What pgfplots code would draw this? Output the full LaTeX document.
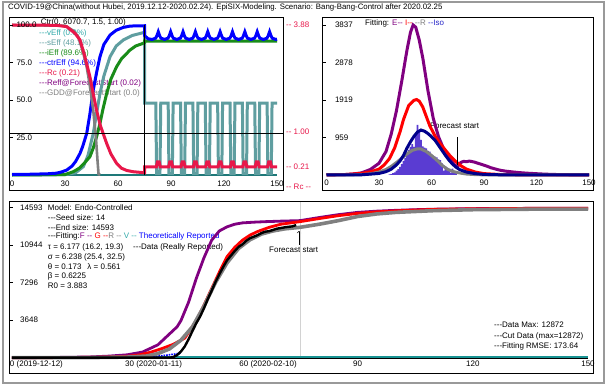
\documentclass[border=0pt]{standalone}
\usepackage{pgfplots}
\pgfplotsset{compat=1.18}
\usepackage{fontspec}
\setmainfont{Liberation Sans}
\definecolor{crim}{RGB}{232,23,74}
\definecolor{pur}{RGB}{128,0,128}
\definecolor{navyb}{RGB}{0,0,139}
\definecolor{teald}{RGB}{30,120,120}
\definecolor{tealt}{RGB}{50,170,170}
\definecolor{cadet}{RGB}{95,158,160}
\definecolor{grn}{RGB}{25,140,25}
\definecolor{barc}{RGB}{90,60,210}
\definecolor{bgray}{RGB}{128,128,128}
\definecolor{isoc}{RGB}{40,40,200}
\newcommand{\f}{\fontsize{8}{10}\selectfont}
\pgfplotsset{
  panel/.style={scale only axis, anchor=south west, axis on top,
    axis line style={black, line width=0.8pt},
    tick align=inside, ytick pos=left, xtick pos=bottom,
    xtick style={draw=none}, ytick style={black, line width=0.6pt},
    major tick length=4pt,
    tick label style={font=\f},
    yticklabel style={anchor=west, xshift=4pt},
    xticklabel style={anchor=center},
    scaled ticks=false, clip=true}
}
\begin{document}
\begin{tikzpicture}
\begin{scope}[x=1pt,y=1pt]
\path[use as bounding box, fill=white] (0,0) rectangle (608,386);
\draw[gray!80, line width=1.3pt] (3,3) rectangle (604,384);
\node[anchor=west, inner sep=0] at (8,379) {\fontsize{7.85}{10}\selectfont COVID-19@China(without Hubei, 2019.12.12-2020.02.24). EpiSIX-Modeling. Scenario: Bang-Bang-Control after 2020.02.25};
\begin{scope}[every node/.style={anchor=west, inner sep=0, font=\f}]
\node at (40.7,363.5) {Ctr(0, 6070.7, 1.5, 1.00)};
\node[tealt] at (39,353) {-{}-{}-vEff (0.0\%)};
\node[cadet] at (39,343) {-{}-{}-sEff (48.1\%)};
\node[grn] at (39,333) {-{}-{}-iEff (89.6\%)};
\node[blue] at (39,323) {-{}-{}-ctrEff (94.6\%)};
\node[crim] at (39,313) {-{}-{}-Rc (0.21)};
\node[pur] at (39,303) {-{}-{}-Reff@ForecastStart (0.02)};
\node[bgray] at (39,292.5) {-{}-{}-GDD@ForecastStart (0.0)};
\node[crim] at (286,361) {-{}- 3.88};
\node[crim] at (286,254) {-{}- 1.00};
\node[crim] at (286,219.3) {-{}- 0.21};
\node[crim] at (286,199) {-{}- Rc -{}-};
\node at (365,363) {Fitting: \textcolor{pur}{E-{}-} \textcolor{red}{I-{}-} \textcolor{bgray}{-{}-R} \textcolor{isoc}{-{}-Iso}};
\node at (430,260) {Forecast start};
\node at (47.7,178.7) {Model: Endo-Controlled};
\node at (47.7,168.3) {-{}-{}-Seed size: 14};
\node at (47.7,158.7) {-{}-{}-End size: 14593};
\node at (47.7,149.3) {-{}-{}-Fitting:\textcolor{pur}{F -{}-} \textcolor{red}{G -{}-}\textcolor{bgray}{R -{}-} \textcolor{tealt}{V -{}-} \textcolor{blue}{Theoretically Reported}};
\node at (47.7,138.7) {τ = 6.177 (16.2, 19.3)};
\node at (133,138.7) {-{}-{}-Data (Really Reported)};
\node at (47.7,129) {σ = 6.238 (25.4, 32.5)};
\node at (47.7,119.7) {θ = 0.173\hspace{6pt}λ = 0.561};
\node at (47.7,110) {β = 0.6225};
\node at (47.7,100.3) {R0 = 3.883};
\node at (269,136) {Forecast start};
\node at (494,61) {-{}-{}-Data Max: 12872};
\node at (494,50) {-{}-{}-Cut Data (max=12872)};
\node at (494,40) {-{}-{}-Fitting RMSE: 173.64};
\end{scope}
\draw[->, line width=0.6pt] (299,141) -- (299,155);
\end{scope}
% ================= top-left
\begin{axis}[panel, at={(9pt,195.5pt)}, width=274.5pt, height=173pt,
  xmin=-1.70, xmax=153.68, ymin=-10.33, ymax=105,
  xtick={0,30,60,90,120,150}, xticklabels={0,30,60,90,120,150},
  xticklabel style={yshift=7.2pt},
  ytick={25,50,75,100}, yticklabels={25.0,50.0,75.0,100.0}]
\addplot[teald, line width=2pt] coordinates {(0,0.3) (150,0.3)};
\addplot[cadet, line width=3pt] coordinates {(0,0) (30,0.2) (36,1.5) (40.4,5.6) (43,13) (46,27.8) (48,42) (49.8,54.4) (52,66) (55.5,78.9) (59,86) (63,90) (68,93) (74.3,94.9) (75,95) (75.01,48)
 (81.4,48) (81.85,1) (83.75,1) (84.2,48)
 (88.4,48) (88.85,1) (90.75,1) (91.2,48)
 (95.4,48) (95.85,1) (97.75,1) (98.2,48)
 (102.4,48) (102.85,1) (104.75,1) (105.2,48)
 (109.4,48) (109.85,1) (111.75,1) (112.2,48)
 (116.4,48) (116.85,1) (118.75,1) (119.2,48)
 (123.4,48) (123.85,1) (125.75,1) (126.2,48)
 (130.4,48) (130.85,1) (132.75,1) (133.2,48)
 (137.4,48) (137.85,1) (139.75,1) (140.2,48)
 (144.4,48) (144.85,1) (146.75,1) (147.2,48) (150,48)};
\addplot[grn, line width=3pt] coordinates {(0,0) (30,0.3) (34.7,2.2) (38,4.5) (41,8) (44.1,12.2) (46,18) (48,26) (49.8,34.4) (51.5,44) (53.6,54.4) (56,64) (59.2,72.2) (62,77.5) (66.8,83.3) (70,86) (74.3,87.8) (75,88.3) (75.01,89.3) (150,89.3)};
\addplot[blue, line width=3pt] coordinates {(0,0.5) (10,0.5) (20,0.8) (25,1.2) (28,2) (31,3.3) (34,6) (36,9) (38.5,14.4) (40,19) (42.3,27.8) (44,40) (46,56.7) (48,69) (49.8,78.9) (52,87) (55.5,93.3) (59,96.5) (63,98.4) (67,99.3) (75,99.5) (75.01,93) (77,90.8) (79.3,90.4)
 (81.3,91.2) (82,92.8) (82.8,95.5) (83.6,92.8) (84.3,91.2) (86.3,90.4)
 (88.3,91.2) (89,92.8) (89.8,95.5) (90.6,92.8) (91.3,91.2) (93.3,90.4)
 (95.3,91.2) (96,92.8) (96.8,95.5) (97.6,92.8) (98.3,91.2) (100.3,90.4)
 (102.3,91.2) (103,92.8) (103.8,95.5) (104.6,92.8) (105.3,91.2) (107.3,90.4)
 (109.3,91.2) (110,92.8) (110.8,95.5) (111.6,92.8) (112.3,91.2) (114.3,90.4)
 (116.3,91.2) (117,92.8) (117.8,95.5) (118.6,92.8) (119.3,91.2) (121.3,90.4)
 (123.3,91.2) (124,92.8) (124.8,95.5) (125.6,92.8) (126.3,91.2) (128.3,90.4)
 (130.3,91.2) (131,92.8) (131.8,95.5) (132.6,92.8) (133.3,91.2) (135.3,90.4)
 (137.3,91.2) (138,92.8) (138.8,95.5) (139.6,92.8) (140.3,91.2) (142.3,90.4)
 (144.3,91.2) (145,92.8) (145.8,95.5) (146.6,92.8) (147.3,91.2) (149.3,90.4) (150,90.6)};
\addplot[bgray, line width=2.6pt] coordinates {(0,100) (30,99.5) (35,96) (37.5,92) (40,83) (42.3,72) (44,60) (46,43) (47.5,25) (48.5,8) (49,0.5) (50,0.3)};
\addplot[crim, line width=3pt] coordinates {(0,100) (25,99.8) (31,98.9) (35.7,94.4) (38.5,90) (41,80) (44.1,65.5) (46,54) (47.9,43) (50,33) (53.6,21) (56,14) (59.2,7.8) (62,4.5) (65,3) (68.5,2.2) (75,1.5) (75.01,5.5)
 (81.7,5.5) (82.3,8.8) (83.3,8.8) (83.9,5.5)
 (88.7,5.5) (89.3,8.8) (90.3,8.8) (90.9,5.5)
 (95.7,5.5) (96.3,8.8) (97.3,8.8) (97.9,5.5)
 (102.7,5.5) (103.3,8.8) (104.3,8.8) (104.9,5.5)
 (109.7,5.5) (110.3,8.8) (111.3,8.8) (111.9,5.5)
 (116.7,5.5) (117.3,8.8) (118.3,8.8) (118.9,5.5)
 (123.7,5.5) (124.3,8.8) (125.3,8.8) (125.9,5.5)
 (130.7,5.5) (131.3,8.8) (132.3,8.8) (132.9,5.5)
 (137.7,5.5) (138.3,8.8) (139.3,8.8) (139.9,5.5)
 (144.7,5.5) (145.3,8.8) (146.3,8.8) (146.9,5.5) (150,5.5)};
\addplot[black, line width=0.9pt] coordinates {(75,0) (75,100)};
\addplot[black, line width=0.9pt] coordinates {(-1.7,27.8) (153.68,27.8)};
\end{axis}
% ================= top-right
\begin{axis}[panel, at={(322pt,195.5pt)}, width=271.5pt, height=173pt,
  xmin=-2.57, xmax=152.57, ymin=-396.5, ymax=4028.8,
  xtick={0,30,60,90,120,150}, xticklabels={0,30,60,90,120,150},
  xticklabel style={yshift=7.8pt},
  yticklabel style={xshift=5.5pt},
  ytick={959,1919,2878,3837}, yticklabels={959,1919,2878,3837}]
\addplot[ybar, bar width=1.6pt, fill=barc, draw=none] coordinates {(36,15) (37,25) (38,45) (39,70) (40,110) (41,150) (42,210) (43,280) (44,360) (45,440) (46,520) (47,640) (48,720) (49,790) (50,720) (51,1080) (52,1280) (53,1150) (54,900) (55,730) (56,700) (57,680) (58,620) (59,600) (60,520) (61,480) (62,470) (63,450) (64,400) (65,380) (66,300) (67,110) (68,220) (69,190) (70,120) (71,60) (72,160) (73,80) (74,50)};
\addplot[pur, line width=3pt] coordinates {(0,2) (10,10) (15,25) (20,55) (25,140) (30,300) (34,600) (37,1050) (40,1650) (43,2400) (46,3200) (48,3650) (49.5,3837) (51,3780) (53,3450) (55,3000) (58,2150) (61,1450) (64,980) (67,660) (70,440) (73,270) (74.5,210) (75.5,260) (76.5,310) (77.5,335) (78.5,350) (79.5,340) (80.5,345) (81.5,355) (82.5,350) (83.5,340) (84.5,330) (85.5,315) (86.5,300) (88,280) (90,250) (92,220) (94,185) (96,160) (98,135) (100,115) (103,95) (106,80) (110,62) (114,48) (118,38) (122,28) (126,20) (130,14) (135,9) (140,5) (150,2)};
\addplot[red, line width=3pt] coordinates {(0,3) (10,10) (20,40) (25,80) (30,150) (33,260) (36,420) (39,700) (42,1100) (44,1420) (47,1780) (50,1910) (51.5,1930) (53,1890) (55,1740) (57,1500) (59,1260) (62,1000) (65,800) (68.6,600) (71,470) (74,340) (77,230) (80,150) (85,75) (90,35) (100,10) (115,3) (150,0)};
\addplot[bgray, line width=3pt] coordinates {(0,0) (15,5) (20,12) (25,30) (30,75) (34,140) (37,220) (40,320) (43,430) (46,540) (49,630) (52,670) (54,665) (57,600) (60,500) (63,380) (66,250) (69,150) (72,95) (75,60) (80,25) (85,10) (90,4) (100,0) (150,0)};
\addplot[navyb, line width=3pt] coordinates {(0,0) (20,5) (30,40) (34,85) (37,150) (40,260) (42,360) (44,500) (46,690) (48,850) (50,990) (52,1100) (54,1150) (56,1120) (58,1060) (60,980) (62,890) (64,760) (66,630) (68,500) (70,380) (72,280) (74,200) (76,140) (80,75) (85,35) (90,15) (100,4) (150,0)};
\addplot[black, line width=0.9pt] coordinates {(75.1,250) (75.1,970)};
\end{axis}
% ================= bottom
\begin{axis}[panel, at={(9.3pt,13pt)}, width=583.7pt, height=171.3pt,
  xmin=-0.70, xmax=151.3, ymin=-1484.6, ymax=15136,
  xtick={0,30,60,90,120,150},
  xticklabels={\makebox[0pt][l]{\hspace{-2pt}0 (2019-12-12)},\makebox[0pt][l]{\hspace{-2pt}30 (2020-01-11)},\makebox[0pt][l]{\hspace{-3pt}60 (2020-02-10)},90,120,150},
  xticklabel style={yshift=9pt},
  yticklabel style={xshift=3.4pt},
  ytick={3648,7296,10944,14593}, yticklabels={3648,7296,10944,14593}]
\addplot[gray!35, line width=0.8pt] coordinates {(75,0) (75,15136)};
\addplot[black, line width=1.2pt] coordinates {(0,-90) (150,-90)};
\addplot[teald!80!cyan, line width=2pt] coordinates {(0,70) (150,70)};
\addplot[blue, line width=1.6pt, densely dotted] coordinates {(30,30) (33,60) (36,110) (38,160) (40,240) (42,330) (44,450)};
\addplot[pur, line width=2.8pt] coordinates {(0,0) (10,15) (20,70) (25,150) (30,280) (34,550) (38,1250) (41,2300) (43,3000) (44,3600) (46,5400) (48,7700) (50,9700) (52,11400) (54,12300) (56,12700) (58,12950) (60,13080) (63,13150) (66,13200) (70,13250) (75,13300) (80,13600) (85,13880) (90,14100) (95,14220) (100,14300) (105,14360) (110,14410) (120,14460) (135,14490) (150,14500)};
\addplot[red, line width=2.8pt] coordinates {(0,0) (10,8) (20,35) (25,70) (30,140) (33,260) (36,520) (39,880) (42,1300) (45,1900) (48,3600) (50,5100) (52,6700) (54,8300) (56,9800) (58,10700) (60,11400) (62,11900) (64,12250) (67,12650) (70,12950) (75,13200) (80,13500) (85,13780) (90,14000) (95,14150) (100,14250) (105,14330) (110,14390) (120,14450) (135,14490) (150,14500)};
\addplot[bgray, line width=3.6pt] coordinates {(0,0) (20,10) (30,60) (35,160) (38,400) (41,850) (44,1700) (47,3000) (50,5000) (53,7300) (56,9200) (59,10600) (62,11450) (65,12000) (68,12300) (71,12500) (75,12650) (80,12950) (85,13300) (90,13700) (95,13950) (100,14100) (110,14270) (120,14360) (135,14410) (150,14420)};
\addplot[black, line width=2.4pt] coordinates {(0,0) (41,0) (42,60) (43,250) (44,600) (45,1100) (46,1800) (47,2600) (48,3350) (49,4000) (50,4800) (51,5700) (52,6500) (53,7350) (54,8100) (55,8800) (56,9450) (57,9900) (58,10350) (59,10750) (60,11000) (61,11350) (62,11600) (63,11750) (64,11900) (65,12100) (66,12230) (67,12280) (68,12400) (69,12520) (70,12580) (71,12650) (72,12700) (73,12740) (74,12872)};
\end{axis}
\end{tikzpicture}
\end{document}
